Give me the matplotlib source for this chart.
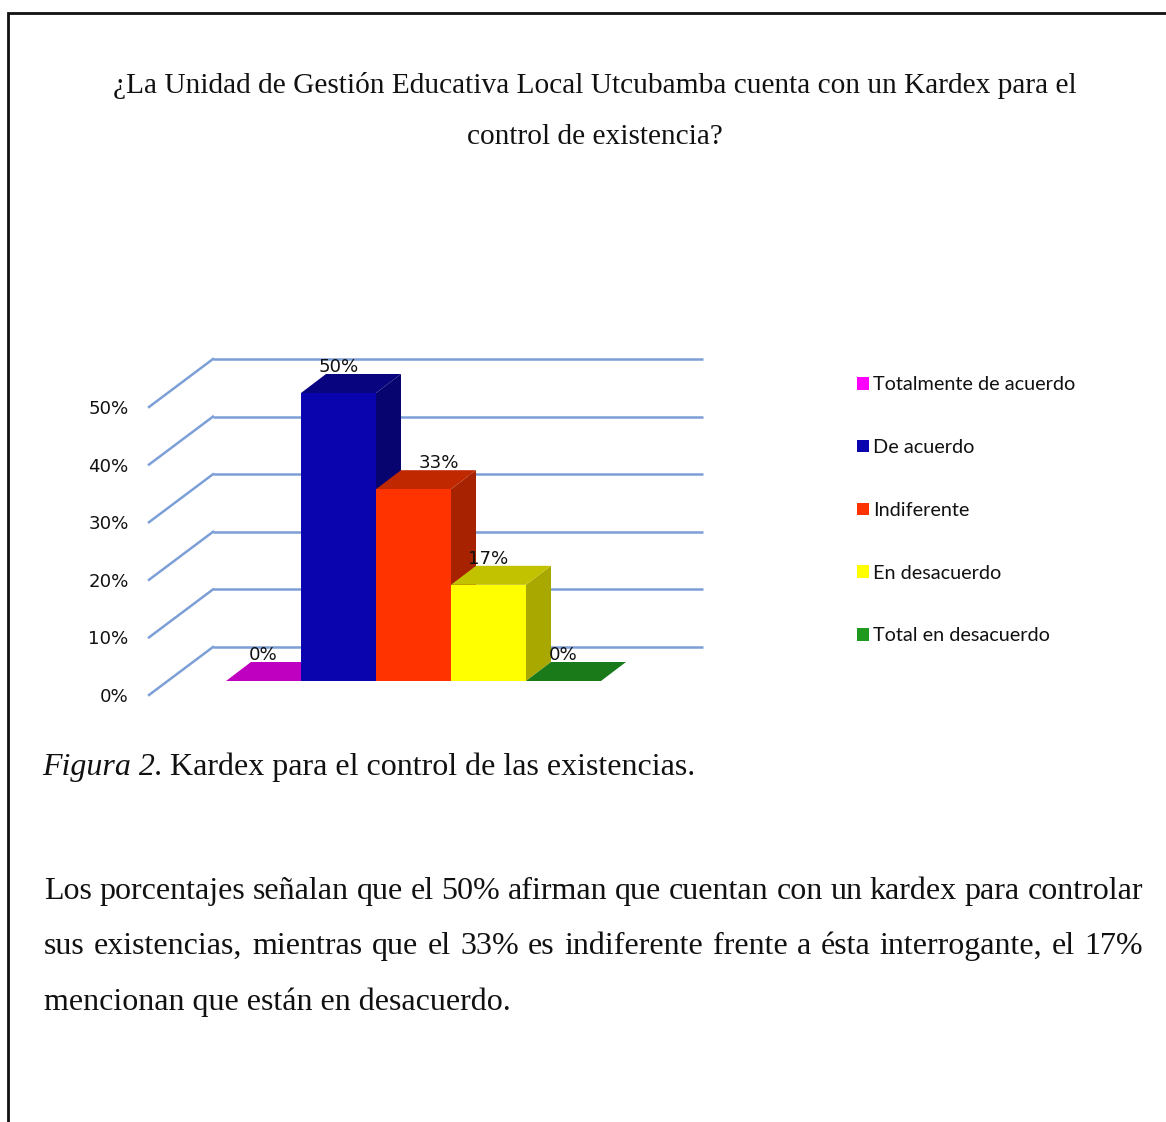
import matplotlib
matplotlib.use("Agg")
import matplotlib.pyplot as plt
from matplotlib.patches import Polygon, Patch
from matplotlib.transforms import Affine2D

W, H = 1166, 1122

# ---- data ----
categories = ["Totalmente de acuerdo", "De acuerdo", "Indiferente", "En desacuerdo", "Total en desacuerdo"]
values = [0, 50, 33.3, 16.7, 0]
y_ticks = [0, 10, 20, 30, 40, 50]

title_lines = ["¿La Unidad de Gestión Educativa Local Utcubamba cuenta con un Kardex para el",
               "control de existencia?"]
caption_italic = "Figura 2."
caption_plain = "Kardex para el control de las existencias."
body_lines = ["Los porcentajes señalan que el 50% afirman que cuentan con un kardex para controlar",
              "sus existencias, mientras que el 33% es indiferente frente a ésta interrogante, el 17%",
              "mencionan que están en desacuerdo."]

# ---- styles ----
front_cols = ["#FF00FF", "#0A04AE", "#FF3300", "#FFFF00", "#1F9A1F"]
top_cols = ["#C000C0", "#08047F", "#C02800", "#C2C200", "#1A7A1A"]
side_cols = ["#A000A0", "#070470", "#A62200", "#A8A800", "#157015"]
label_dx = [0, 0, 25, 0, 0]
GRID = "#7C9FD8"
SERIF = "Liberation Serif"
SANS = "Lato"
PX_X, PX_Y = 75.0, 5.76
DEPTH = (25, 19)

fig = plt.figure(figsize=(W / 100, H / 100), dpi=100, facecolor="white")


def fx(px):
    return px / W


def fy(py):
    return 1 - py / H


# frame
fig.add_artist(plt.Line2D([fx(8), fx(8), fx(W)], [fy(H), fy(13), fy(13)],
                          color="#111111", lw=2.0, solid_joinstyle="miter"))

# chart axes
left, right, base, top = 148, 703, 681, 681 - 60 * PX_Y
ax = fig.add_axes([fx(left), fy(base), fx(right - left), (base - top) / H])
ax.set_xlim((left - 263.5) / PX_X, (right - 263.5) / PX_X)
ax.set_ylim(0, 60)
ax.axis("off")

trans_wall_front = ax.transData + Affine2D().translate(1, -14)
trans_wall_back = ax.transData + Affine2D().translate(65, 34)

x0, x1 = ax.get_xlim()
for v in y_ticks:
    ax.plot([x0, x1 - 65 / PX_X], [v, v], color=GRID, lw=1.8, transform=trans_wall_back,
            clip_on=False, solid_capstyle="butt", zorder=1)
    # slanted side-wall line, from the back plane to the front plane
    p_back = trans_wall_back.transform((x0, v))
    p_front = trans_wall_front.transform((x0, v))
    fig.add_artist(plt.Line2D([p_back[0] / W, p_front[0] / W], [p_back[1] / H, p_front[1] / H],
                              color=GRID, lw=1.8, zorder=1))
    ax.text(128.5, p_front[1] - 2, f"{v}%", transform=None, ha="right", va="center",
            fontsize=13.1, family="DejaVu Sans", color="#111111")

dx_data = DEPTH[0] / PX_X
dy_data = DEPTH[1] / PX_Y
for i, v in enumerate(values):
    l, r = i - 0.5, i + 0.5
    z = 3 + i
    # side face
    ax.add_patch(Polygon([(r, 0), (r + dx_data, dy_data), (r + dx_data, v + dy_data), (r, v)],
                         closed=True, fc=side_cols[i], ec="none", zorder=z, clip_on=False))
    # top face
    ax.add_patch(Polygon([(l, v), (r, v), (r + dx_data, v + dy_data), (l + dx_data, v + dy_data)],
                         closed=True, fc=top_cols[i], ec="none", zorder=z, clip_on=False))
    # front face
    ax.bar(i, v, width=1.0, color=front_cols[i], zorder=z + 0.5, clip_on=False)
    ax.annotate(f"{v:.0f}%", (i, v), xytext=(label_dx[i] * 0.72, 18.8), textcoords="offset points",
                ha="center", va="center", fontsize=13.1, family="DejaVu Sans", color="#111111",
                zorder=20, annotation_clip=False)

# legend
handles = [Patch(fc=c, ec="none", label=n) for c, n in zip(front_cols, categories)]
fig.legend(handles=handles, loc="upper left", bbox_to_anchor=(fx(857), fy(376.5)), frameon=False,
           borderpad=0, borderaxespad=0, handlelength=0.6, handleheight=0.6, handletextpad=0.2,
           labelspacing=2.3, prop={"family": SANS, "size": 14.3}, labelcolor="#111111")

# text
TS = 21.2
BS = 23.0
for line, py in zip(title_lines, [93, 144]):
    fig.text(fx(594.5), fy(py), line, ha="center", va="baseline", family=SERIF, fontsize=TS, color="#111111")

renderer = fig.canvas.get_renderer()


def width(t):
    return t.get_window_extent(renderer).width


fig.text(fx(42), fy(775), caption_italic, family=SERIF, style="italic", fontsize=BS, color="#111111")
fig.text(fx(170), fy(775), caption_plain, family=SERIF, fontsize=BS, color="#111111")


def justified(line, xa, xb, py):
    words = line.split(" ")
    arts = [fig.text(fx(xa), fy(py), w, family=SERIF, fontsize=BS, color="#111111") for w in words]
    widths = [width(a) for a in arts]
    gap = (xb - xa - sum(widths)) / (len(words) - 1)
    x = xa
    for a, w in zip(arts, widths):
        a.set_x(fx(x))
        x += w + gap


justified(body_lines[0], 44, 1143, 899)
justified(body_lines[1], 44, 1143, 954)
fig.text(fx(44), fy(1010), body_lines[2], family=SERIF, fontsize=BS, color="#111111")

fig.savefig("out.png", dpi=100, facecolor="white")
